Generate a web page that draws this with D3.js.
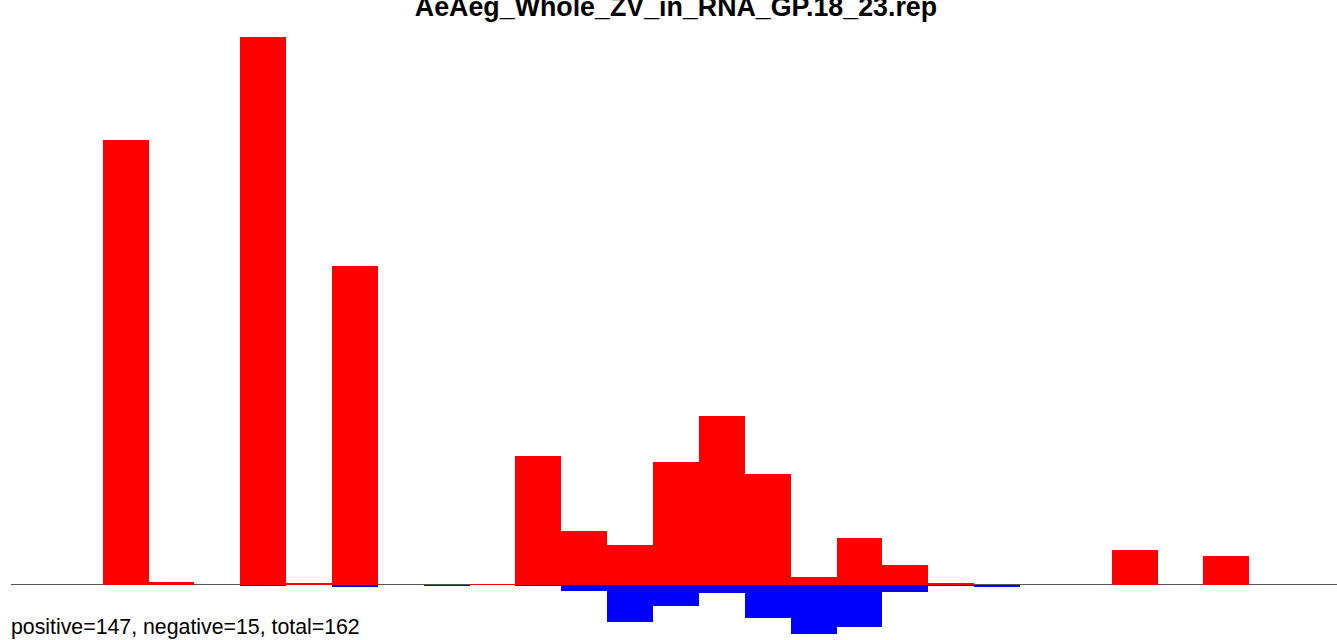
<!DOCTYPE html>
<html>
<head>
<meta charset="utf-8">
<script src="https://cdn.jsdelivr.net/npm/d3@7"></script>
<style>
  html, body { margin: 0; padding: 0; background: #fff; }
  svg { display: block; }
</style>
</head>
<body>
<svg id="chart" width="1337" height="640"></svg>
<script>
// Bin positions (0..28) of the histogram
const bins = d3.range(29);
// Positive (red) values per bin
const positive = [0, 0, 444.5, 2.5, 0, 547.5, 1.5, 318.5, 0, 0, 1, 128.5, 53.5, 39.5, 122.5, 168.5, 110.5, 7.5, 46.5, 19.5, 1.5, 0, 0, 0, 34.5, 0, 28.5, 0, 0];
// Negative (blue) values per bin
const negative = [0, 0, 0, 0, 0, -1, 0, -2, 0, -1, 0, -1, -6.5, -37.5, -21.5, -8.5, -33.5, -49.5, -42.5, -7.5, -1.5, -2.5, 0, 0, 0, 0, 0, 0, 0];
const titleText = "AeAeg_Whole_ZV_in_RNA_GP.18_23.rep";
const footerText = "positive=147, negative=15, total=162";

const svg = d3.select("#chart");
const x = d3.scaleBand().domain(bins).range([11, 1341]).padding(0);
const y = d3.scaleLinear().domain([-49.5, 547.5]).range([634, 37]);

svg.append("line")
  .attr("x1", 11).attr("x2", 1341)
  .attr("y1", y(0)).attr("y2", y(0))
  .attr("stroke", "#555555").attr("stroke-width", 1);

svg.append("g").attr("shape-rendering", "crispEdges").selectAll("rect")
  .data(bins.filter(i => positive[i] > 0))
  .join("rect")
  .attr("x", i => x(i))
  .attr("width", x.bandwidth())
  .attr("y", i => y(positive[i]))
  .attr("height", i => y(0) - y(positive[i]))
  .attr("fill", "#ff0000");

svg.append("g").attr("shape-rendering", "crispEdges").selectAll("rect")
  .data(bins.filter(i => negative[i] < 0))
  .join("rect")
  .attr("x", i => x(i))
  .attr("width", x.bandwidth())
  .attr("y", y(0))
  .attr("height", i => y(negative[i]) - y(0))
  .attr("fill", "#0000ff");

svg.append("text")
  .attr("x", 676).attr("y", 16)
  .attr("text-anchor", "middle")
  .attr("font-family", "Liberation Sans, Arial, sans-serif")
  .attr("font-weight", "bold")
  .attr("font-size", 26.8)
  .attr("fill", "#000")
  .text(titleText);

svg.append("text")
  .attr("x", 11).attr("y", 634)
  .attr("font-family", "Liberation Sans, Arial, sans-serif")
  .attr("font-size", 21.3)
  .attr("fill", "#000")
  .text(footerText);
</script>
</body>
</html>
